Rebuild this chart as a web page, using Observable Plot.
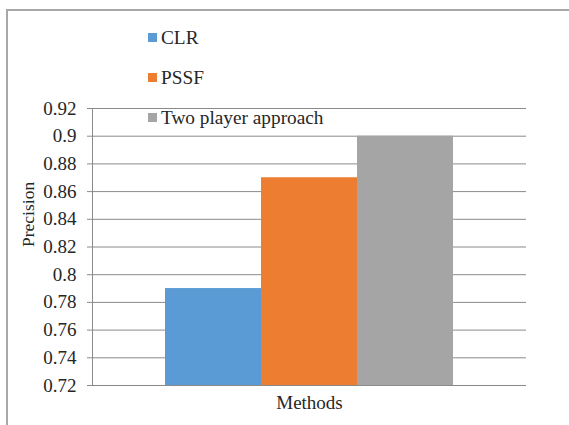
<!DOCTYPE html>
<html>
<head>
<meta charset="utf-8">
<script src="https://cdn.jsdelivr.net/npm/d3@7"></script>
<script src="https://cdn.jsdelivr.net/npm/@observablehq/plot@0.6"></script>
<style>
  html, body { margin: 0; padding: 0; background: #fff; overflow: hidden; }
  #wrap { position: relative; width: 569px; height: 425px; overflow: hidden; font-family: "Liberation Serif", Tinos, "Times New Roman", Times, "DejaVu Serif", serif; }
  #border { position: absolute; left: 6px; top: 9px; width: 700px; height: 600px; border: 2px solid #a8a8a8; box-sizing: border-box; }
  #chart { position: absolute; left: 0; top: 0; }
  .legend { position: absolute; left: 148px; top: 0; }
  .item { position: absolute; left: 0; white-space: nowrap; font-size: 19.3px; color: #262626; line-height: 1; }
  .sw { display: inline-block; width: 9px; height: 9px; margin-right: 4px; vertical-align: 2px; }
  #chart svg text { font-family: "Liberation Serif", Tinos, "Times New Roman", Times, "DejaVu Serif", serif; }
</style>
</head>
<body>
<div id="wrap">
  <div id="border"></div>
  <div id="chart"></div>
  <div class="legend" id="legend"></div>
</div>
<script>
// Precision of each method
const methods = ["CLR", "PSSF", "Two player approach"];
const precision = [0.79, 0.87, 0.9];
const colors = ["#5b9bd5", "#ed7d31", "#a5a5a5"];

// Y axis ticks and their labels
const yTicks = [0.72, 0.74, 0.76, 0.78, 0.8, 0.82, 0.84, 0.86, 0.88, 0.9, 0.92];
const yTickLabels = ["0.72", "0.74", "0.76", "0.78", "0.8", "0.82", "0.84", "0.86", "0.88", "0.9", "0.92"];
const yDomain = [0.72, 0.92];

const xTitle = "Methods";
const yTitle = "Precision";

const data = methods.map((m, i) => ({method: m, value: precision[i]}));

const chart = Plot.plot({
  width: 569,
  height: 425,
  marginLeft: 92,
  marginRight: 43,
  marginTop: 108,
  marginBottom: 40,
  style: {fontSize: "19px", color: "#262626", background: "transparent"},
  x: {domain: methods, paddingInner: 0, paddingOuter: 0.75, axis: null},
  y: {domain: yDomain, axis: null},
  color: {domain: methods, range: colors},
  marks: [
    Plot.ruleY(yTicks, {stroke: "#8a8a8a", strokeWidth: 1, insetLeft: -5}),
    Plot.frame({anchor: "left", stroke: "#8a8a8a"}),
    Plot.barY(data, {x: "method", y1: yDomain[0], y2: "value", fill: "method"}),
    Plot.axisY(yTicks, {tickSize: 0, tickPadding: 16, tickFormat: (d, i) => yTickLabels[i], label: null, fontSize: 19}),
    Plot.text([xTitle], {frameAnchor: "bottom", dy: 23, fontSize: 19, fill: "#262626"}),
    Plot.text([yTitle], {frameAnchor: "left", dx: -64, rotate: -90, fontSize: 17.5, fill: "#262626"})
  ]
});
document.getElementById("chart").appendChild(chart);

// Legend, stacked vertically in the upper left
const legend = document.getElementById("legend");
const legendRows = [28, 68, 108];
methods.forEach((m, i) => {
  const item = document.createElement("div");
  item.className = "item";
  item.style.top = legendRows[i] + "px";
  const sw = document.createElement("span");
  sw.className = "sw";
  sw.style.background = colors[i];
  item.appendChild(sw);
  item.appendChild(document.createTextNode(m));
  legend.appendChild(item);
});
</script>
</body>
</html>
